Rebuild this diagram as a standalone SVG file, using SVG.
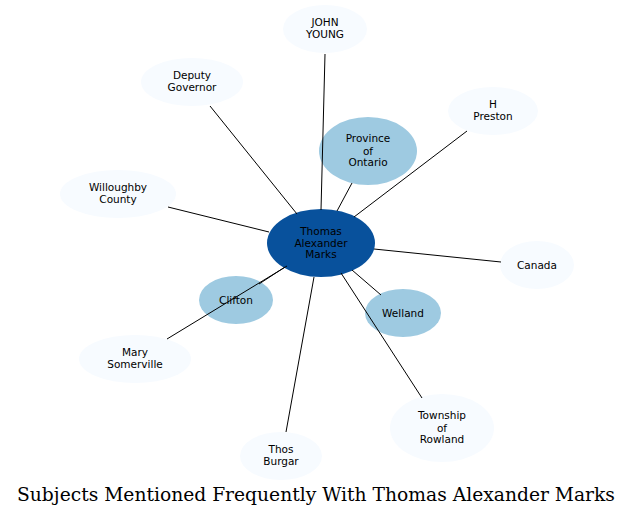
<svg xmlns="http://www.w3.org/2000/svg" width="633" height="516" viewBox="0 0 633 516">
<style>
.n text{font-family:"DejaVu Sans",sans-serif;font-size:10.5px;text-anchor:middle;fill:#000}
.outer{fill:#f7fbff}
.mid{fill:#9ecae1}
.ctr{fill:#08519c}
#edges line{stroke:#000;stroke-width:1}
.title{font-family:"DejaVu Serif",serif;font-size:18.7px;text-anchor:middle;fill:#000}
</style>
<rect width="633" height="516" fill="#fff"/>
<g id="n-thomas" class="n"><ellipse class="ctr" cx="321" cy="243" rx="54" ry="34"/><text x="321" y="235">Thomas</text><text x="321" y="246.5">Alexander</text><text x="321" y="258">Marks</text></g>
<g id="n-young" class="n"><ellipse class="outer" cx="325" cy="29" rx="42" ry="24"/><text x="325" y="26">JOHN</text><text x="325" y="37.5">YOUNG</text></g>
<g id="n-deputy" class="n"><ellipse class="outer" cx="192" cy="82" rx="51" ry="24"/><text x="192" y="79">Deputy</text><text x="192" y="90.5">Governor</text></g>
<g id="n-preston" class="n"><ellipse class="outer" cx="493" cy="111" rx="45" ry="24"/><text x="493" y="108">H</text><text x="493" y="119.5">Preston</text></g>
<g id="n-ontario" class="n"><ellipse class="mid" cx="368" cy="151" rx="49" ry="34"/><text x="368" y="142">Province</text><text x="368" y="154.5">of</text><text x="368" y="166">Ontario</text></g>
<g id="n-willoughby" class="n"><ellipse class="outer" cx="118" cy="194" rx="58" ry="24"/><text x="118" y="191">Willoughby</text><text x="118" y="202.5">County</text></g>
<g id="n-canada" class="n"><ellipse class="outer" cx="537" cy="265" rx="37" ry="24"/><text x="537" y="268.5">Canada</text></g>
<g id="n-clifton" class="n"><ellipse class="mid" cx="236" cy="300" rx="37" ry="24"/><text x="236" y="303.5">Clifton</text></g>
<g id="n-welland" class="n"><ellipse class="mid" cx="403" cy="313" rx="38" ry="24"/><text x="403" y="316.5">Welland</text></g>
<g id="n-mary" class="n"><ellipse class="outer" cx="135" cy="359" rx="56" ry="24"/><text x="135" y="356">Mary</text><text x="135" y="367.5">Somerville</text></g>
<g id="n-rowland" class="n"><ellipse class="outer" cx="442" cy="428" rx="52" ry="34"/><text x="442" y="419">Township</text><text x="442" y="431.5">of</text><text x="442" y="443">Rowland</text></g>
<g id="n-burgar" class="n"><ellipse class="outer" cx="281" cy="456" rx="41" ry="24"/><text x="281" y="453">Thos</text><text x="281" y="464.5">Burgar</text></g>
<g id="edges">
<line x1="321" y1="210" x2="325" y2="54"/>
<line x1="297" y1="214" x2="210" y2="106"/>
<line x1="354" y1="217" x2="467" y2="131"/>
<line x1="337" y1="211" x2="352" y2="183"/>
<line x1="269" y1="232" x2="168" y2="207"/>
<line x1="374" y1="249" x2="501" y2="262"/>
<line x1="285" y1="267" x2="259" y2="284"/>
<line x1="287" y1="266" x2="167" y2="339"/>
<line x1="352" y1="270" x2="381" y2="295"/>
<line x1="341" y1="273" x2="422" y2="398"/>
<line x1="314" y1="277" x2="286" y2="432"/>
</g>
<text class="title" x="316" y="501">Subjects Mentioned Frequently With Thomas Alexander Marks</text>
</svg>
